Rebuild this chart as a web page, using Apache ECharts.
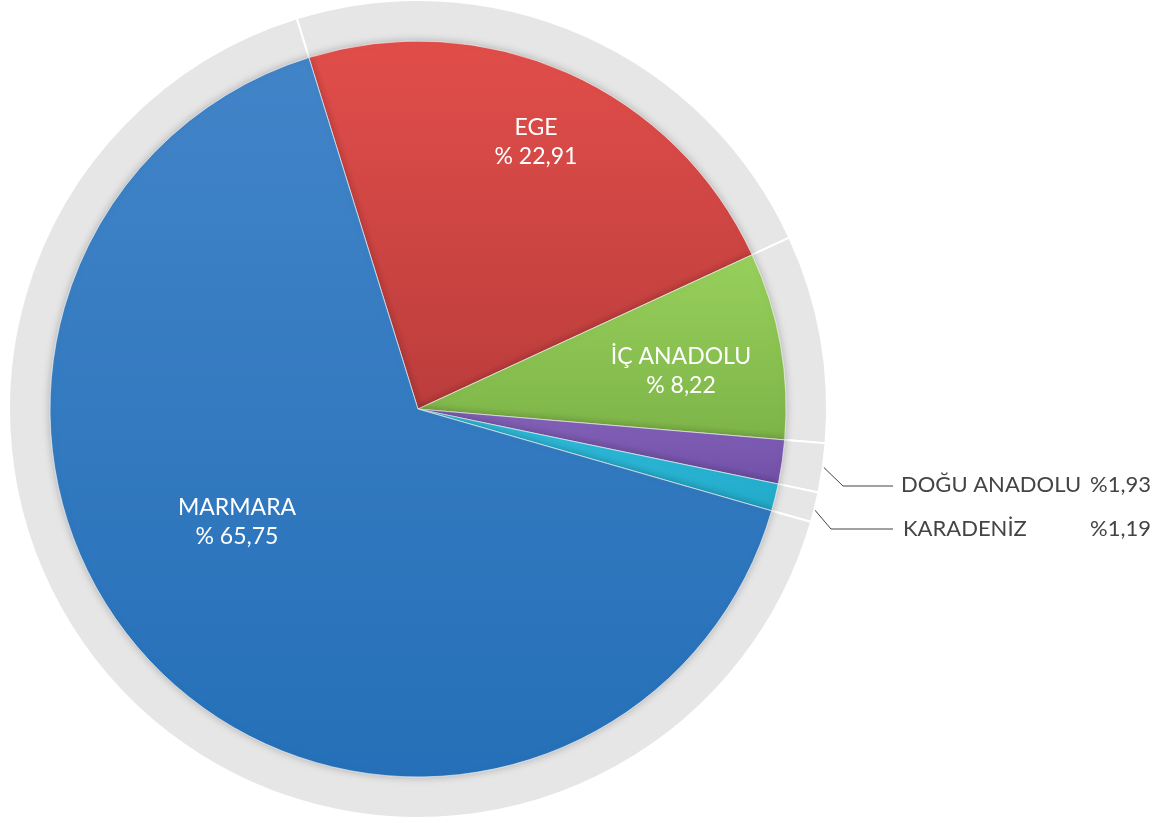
<!DOCTYPE html>
<html>
<head>
<meta charset="utf-8">
<script src="https://cdn.jsdelivr.net/npm/echarts@6/dist/echarts.min.js"></script>
<style>
  html, body { margin: 0; padding: 0; background: #fff; }
  #main { width: 1155px; height: 823px; }
</style>
</head>
<body>
<div id="main"></div>
<script>
  // bölgeler ve payları (%)
  var regions = ['EGE', 'İÇ ANADOLU', 'DOĞU ANADOLU', 'KARADENİZ', 'MARMARA'];
  var shares = [22.91, 8.22, 1.93, 1.19, 65.75];
  var outsideLabels = ['DOĞU ANADOLU', 'KARADENİZ'];

  function grad(top, bottom) {
    return new echarts.graphic.LinearGradient(0, 0, 0, 1, [
      { offset: 0, color: top },
      { offset: 1, color: bottom }
    ]);
  }
  var colors = {
    'EGE': grad('#e14e4a', '#bb3d3c'),
    'İÇ ANADOLU': grad('#98d05c', '#7db448'),
    'DOĞU ANADOLU': grad('#8462b8', '#7150a8'),
    'KARADENİZ': grad('#31bedc', '#22a9c9'),
    'MARMARA': grad('#4284c8', '#2570b8')
  };
  // etiket yerleri
  var labelPos = {
    'EGE': [536, 142],
    'İÇ ANADOLU': [681, 371],
    'MARMARA': [237, 522],
    'DOĞU ANADOLU': [901, 485],
    'KARADENİZ': [903, 529]
  };
  var linePts = {
    'DOĞU ANADOLU': [[813, 457], [843, 486], [893, 486]],
    'KARADENİZ': [[808, 502], [831, 529], [893, 529]]
  };

  function fmt(v) {
    return v.toFixed(2).replace('.', ',');
  }

  var pieData = regions.map(function (name, i) {
    var outside = outsideLabels.indexOf(name) >= 0;
    return {
      name: name,
      value: shares[i],
      itemStyle: { color: colors[name] },
      label: outside ? {
        position: 'outside',
        color: '#444',
        formatter: '{n|' + name + '}{v|%' + fmt(shares[i]) + '}',
        rich: {
          n: { width: name === 'KARADENİZ' ? 187 : 189, fontSize: 22, color: '#444', fontFamily: 'Lato' },
          v: { fontSize: 22, color: '#444', fontFamily: 'Lato' }
        }
      } : {
        position: 'inside',
        color: '#fff',
        fontSize: 23,
        lineHeight: 29,
        align: 'center',
        formatter: name + '\n% ' + fmt(shares[i])
      },
      labelLine: { show: outside, lineStyle: { color: '#444', width: 1 } }
    };
  });

  var ringData = regions.map(function (name, i) {
    return { name: name, value: shares[i] };
  });

  var chart = echarts.init(document.getElementById('main'));
  var option = {
    backgroundColor: '#fff',
    textStyle: { fontFamily: 'Lato' },
    series: [
      {
        type: 'pie',
        silent: true,
        center: [418, 409],
        radius: [366, 409],
        startAngle: 107.25,
        clockwise: true,
        label: { show: false },
        labelLine: { show: false },
        itemStyle: { color: '#e6e6e6', borderColor: '#fff', borderWidth: 2 },
        data: ringData
      },
      {
        type: 'pie',
        center: [418, 409],
        radius: [0, 368],
        startAngle: 107.25,
        clockwise: true,
        itemStyle: {
          borderColor: 'rgba(255,255,255,0.35)',
          borderWidth: 1,
          shadowBlur: 8,
          shadowColor: 'rgba(0,0,0,0.25)'
        },
        label: { fontFamily: 'Lato' },
        labelLayout: function (params) {
          var name = regions[params.dataIndex];
          var p = labelPos[name];
          var outside = outsideLabels.indexOf(name) >= 0;
          var res = {
            x: p[0],
            y: p[1],
            align: outside ? 'left' : 'center',
            verticalAlign: 'middle'
          };
          if (outside) {
            res.labelLinePoints = linePts[name];
          }
          return res;
        },
        data: pieData
      }
    ]
  };
  chart.setOption(option);
</script>
</body>
</html>
